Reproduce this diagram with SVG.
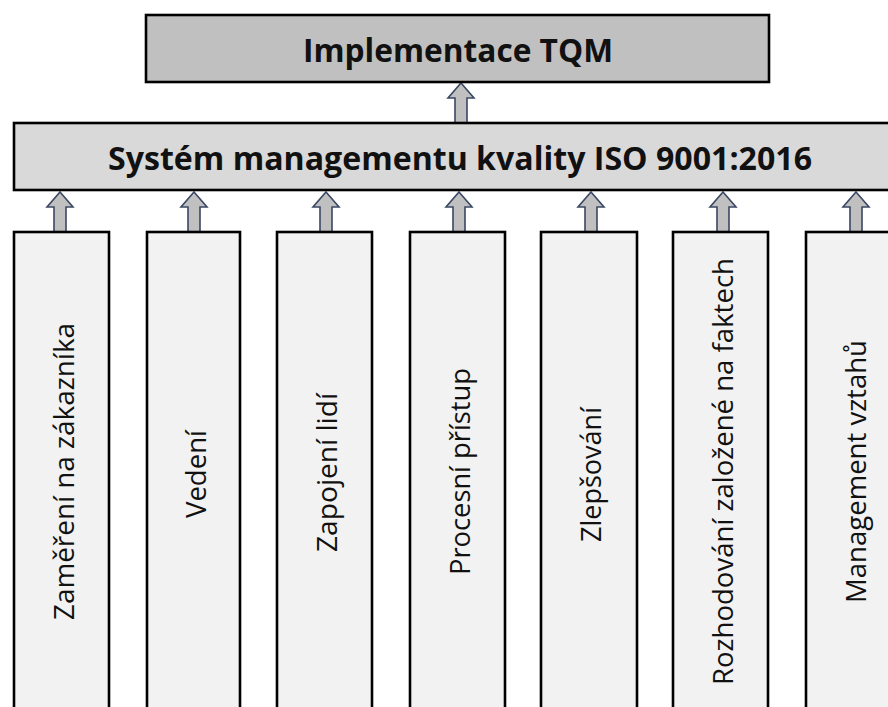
<svg xmlns="http://www.w3.org/2000/svg" xmlns:xlink="http://www.w3.org/1999/xlink" width="888" height="707" viewBox="0 0 888 707">
  <style>
    .box { stroke: #000; stroke-width: 2.6; }
    .top { fill: #c0c0c0; }
    .mid { fill: #d9d9d9; }
    .col { fill: #f2f2f2; }
    .title { font-family: "Open Sans", "Liberation Sans", sans-serif; font-weight: bold; font-size: 32px; fill: #111; text-anchor: middle; }
    .lbl { font-family: "Open Sans", "Liberation Sans", sans-serif; font-size: 28px; fill: #111; text-anchor: middle; }
    .arr { fill: #c0c0c0; stroke: #3a4864; stroke-width: 1.6; stroke-linejoin: miter; }
  </style>
  <defs>
    <path id="uparrow" class="arr" d="M0,0 L13,15 L6,15 L6,40 L-6,40 L-6,15 L-13,15 Z"/>
  </defs>
  <rect width="888" height="707" fill="#fff"/>

  <g id="connectors">
    <use xlink:href="#uparrow" href="#uparrow" x="461" y="83"/>
    <use xlink:href="#uparrow" href="#uparrow" x="60" y="192"/>
    <use xlink:href="#uparrow" href="#uparrow" x="194" y="192"/>
    <use xlink:href="#uparrow" href="#uparrow" x="326" y="192"/>
    <use xlink:href="#uparrow" href="#uparrow" x="459" y="192"/>
    <use xlink:href="#uparrow" href="#uparrow" x="591" y="192"/>
    <use xlink:href="#uparrow" href="#uparrow" x="723" y="192"/>
    <use xlink:href="#uparrow" href="#uparrow" x="856" y="192"/>
  </g>

  <g id="tqm">
    <rect class="box top" x="146" y="15" width="623" height="67"/>
    <text class="title" x="458" y="62" textLength="310" lengthAdjust="spacingAndGlyphs">Implementace TQM</text>
  </g>

  <g id="qms">
    <rect class="box mid" x="14" y="123" width="900" height="67"/>
    <text class="title" x="460" y="170" textLength="704" lengthAdjust="spacingAndGlyphs">Systém managementu kvality ISO 9001:2016</text>
  </g>

  <g id="p1">
    <rect class="box col" x="14" y="232" width="95" height="500"/>
    <text class="lbl" transform="translate(74,471.5) rotate(-90)" textLength="297" lengthAdjust="spacingAndGlyphs">Zaměření na zákazníka</text>
  </g>
  <g id="p2">
    <rect class="box col" x="147" y="232" width="93" height="500"/>
    <text class="lbl" transform="translate(206,474) rotate(-90)" textLength="88" lengthAdjust="spacingAndGlyphs">Vedení</text>
  </g>
  <g id="p3">
    <rect class="box col" x="277" y="232" width="95" height="500"/>
    <text class="lbl" transform="translate(337,472.5) rotate(-90)" textLength="159" lengthAdjust="spacingAndGlyphs">Zapojení lidí</text>
  </g>
  <g id="p4">
    <rect class="box col" x="410" y="232" width="95" height="500"/>
    <text class="lbl" transform="translate(470,471.5) rotate(-90)" textLength="207" lengthAdjust="spacingAndGlyphs">Procesní přístup</text>
  </g>
  <g id="p5">
    <rect class="box col" x="541" y="232" width="96" height="500"/>
    <text class="lbl" transform="translate(601,474.5) rotate(-90)" textLength="135" lengthAdjust="spacingAndGlyphs">Zlepšování</text>
  </g>
  <g id="p6">
    <rect class="box col" x="673" y="232" width="95" height="500"/>
    <text class="lbl" transform="translate(733,471.5) rotate(-90)" textLength="427" lengthAdjust="spacingAndGlyphs">Rozhodování založené na faktech</text>
  </g>
  <g id="p7">
    <rect class="box col" x="806" y="232" width="95" height="500"/>
    <text class="lbl" transform="translate(866,471.5) rotate(-90)" textLength="263" lengthAdjust="spacingAndGlyphs">Management vztahů</text>
  </g>
</svg>
